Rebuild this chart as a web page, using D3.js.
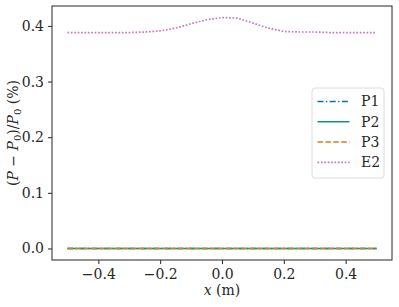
<!DOCTYPE html>
<html>
<head>
<meta charset="utf-8">
<script src="https://cdn.jsdelivr.net/npm/d3@7"></script>
<style>
  body { margin: 0; background: #fff; }
  svg, svg text, svg tspan { font-family: "DejaVu Serif", "Liberation Serif", Times, serif; }
</style>
</head>
<body>
<div id="chart"></div>
<script>
(function () {
    const width = 399;
    const height = 307;
    const margin = { top: 6, right: 7, bottom: 47, left: 52 };
    const font = '"DejaVu Serif", "Liberation Serif", Times, serif';

    // Data
    const xs = [-0.5, -0.45, -0.4, -0.35, -0.3, -0.25, -0.2, -0.15, -0.1, -0.05, 0,
                0.05, 0.1, 0.15, 0.2, 0.25, 0.3, 0.35, 0.4, 0.45, 0.5];
    const p1 = [0, 0, 0, 0, 0, 0, 0, 0, 0, 0, 0, 0, 0, 0, 0, 0, 0, 0, 0, 0, 0];
    const p2 = [0, 0, 0, 0, 0, 0, 0, 0, 0, 0, 0, 0, 0, 0, 0, 0, 0, 0, 0, 0, 0];
    const p3 = [0, 0, 0, 0, 0, 0, 0, 0, 0, 0, 0, 0, 0, 0, 0, 0, 0, 0, 0, 0, 0];
    const e2 = [0.388, 0.388, 0.388, 0.388, 0.388, 0.389, 0.391, 0.396, 0.404, 0.411, 0.415,
                0.414, 0.405, 0.396, 0.390, 0.389, 0.389, 0.388, 0.388, 0.388, 0.388];
    const xTicks = [-0.4, -0.2, 0.0, 0.2, 0.4];
    const yTicks = [0.0, 0.1, 0.2, 0.3, 0.4];

    const series = [
        { name: "P1", values: p1, color: "#0173b2", dash: "6,2.4,1.4,2.4" },
        { name: "P2", values: p2, color: "#029e73", dash: null },
        { name: "P3", values: p3, color: "#de7a1f", dash: "5.5,2.4" },
        { name: "E2", values: e2, color: "#cc78bc", dash: "1.7,1.7" }
    ];

    const svg = d3.select("#chart")
        .append("svg")
        .attr("width", width)
        .attr("height", height)
        .attr("font-family", font);

    // matplotlib-style 5% margins
    const yMax = d3.max(e2), yMin = 0;
    const yPad = (yMax - yMin) * 0.05;
    const x = d3.scaleLinear()
        .domain([-0.55, 0.55])
        .range([margin.left, width - margin.right]);
    const y = d3.scaleLinear()
        .domain([yMin - yPad, yMax + yPad])
        .range([height - margin.bottom, margin.top]);

    const fmt = d => (d < 0 ? "\u2212" : "") + Math.abs(d).toFixed(1);

    // Lines
    const line = d3.line()
        .x((d, i) => x(xs[i]))
        .y(d => y(d));

    svg.append("g")
        .selectAll("path")
        .data(series)
        .enter()
        .append("path")
        .attr("d", d => line(d.values))
        .attr("fill", "none")
        .attr("stroke", d => d.color)
        .attr("stroke-width", d => d.name === "E2" ? 1.7 : 1.5)
        .attr("stroke-dasharray", d => d.dash);

    // Axes
    const xAxis = svg.append("g")
        .attr("transform", `translate(0,${height - margin.bottom})`)
        .call(d3.axisBottom(x).tickValues(xTicks).tickFormat(fmt).tickSize(4).tickPadding(5));
    const yAxis = svg.append("g")
        .attr("transform", `translate(${margin.left},0)`)
        .call(d3.axisLeft(y).tickValues(yTicks).tickFormat(fmt).tickSize(4).tickPadding(4));

    [xAxis, yAxis].forEach(g => {
        g.attr("font-family", font).attr("font-size", null);
        g.select(".domain").remove();
        g.selectAll("line").attr("stroke", "#262626");
        g.selectAll("text")
            .attr("fill", "#262626")
            .style("font-family", font)
            .style("font-size", "14px");
    });

    // Frame
    svg.append("rect")
        .attr("x", margin.left)
        .attr("y", margin.top)
        .attr("width", width - margin.left - margin.right)
        .attr("height", height - margin.top - margin.bottom)
        .attr("fill", "none")
        .attr("stroke", "#262626")
        .attr("stroke-width", 1);

    // Axis labels
    const xLabel = svg.append("text")
        .attr("x", (margin.left + width - margin.right) / 2)
        .attr("y", 295)
        .attr("text-anchor", "middle")
        .attr("fill", "#262626")
        .style("font-family", font)
        .style("font-size", "14px");
    xLabel.append("tspan").style("font-style", "italic").text("x");
    xLabel.append("tspan").text(" (m)");

    const yLabel = svg.append("text")
        .attr("transform", `translate(18,${(margin.top + height - margin.bottom) / 2}) rotate(-90)`)
        .attr("text-anchor", "middle")
        .attr("fill", "#262626")
        .style("font-family", font)
        .style("font-size", "14px");
    yLabel.append("tspan").text("(");
    yLabel.append("tspan").style("font-style", "italic").text("P");
    yLabel.append("tspan").text(" \u2212 ");
    yLabel.append("tspan").style("font-style", "italic").text("P");
    yLabel.append("tspan").attr("dy", 3).style("font-size", "10px").text("0");
    yLabel.append("tspan").attr("dy", -3).text(")/");
    yLabel.append("tspan").style("font-style", "italic").text("P");
    yLabel.append("tspan").attr("dy", 3).style("font-size", "10px").text("0");
    yLabel.append("tspan").attr("dy", -3).text(" (%)");

    // Legend
    const legend = svg.append("g")
        .attr("transform", "translate(312,88)");
    legend.append("rect")
        .attr("width", 72)
        .attr("height", 90)
        .attr("rx", 3)
        .attr("fill", "#fff")
        .attr("fill-opacity", 0.8)
        .attr("stroke", "#dcdcdc")
        .attr("stroke-width", 1);

    const item = legend.selectAll("g.item")
        .data(series)
        .enter()
        .append("g")
        .attr("class", "item")
        .attr("transform", (d, i) => `translate(0,${13.5 + i * 20.3})`);
    item.append("line")
        .attr("x1", 5.5)
        .attr("x2", 37.5)
        .attr("stroke", d => d.color)
        .attr("stroke-width", d => d.name === "E2" ? 1.7 : 1.5)
        .attr("stroke-dasharray", d => d.dash);
    item.append("text")
        .attr("x", 49)
        .attr("dy", "0.35em")
        .attr("fill", "#262626")
        .style("font-family", font)
        .style("font-size", "14px")
        .text(d => d.name);
})();
</script>
</body>
</html>
